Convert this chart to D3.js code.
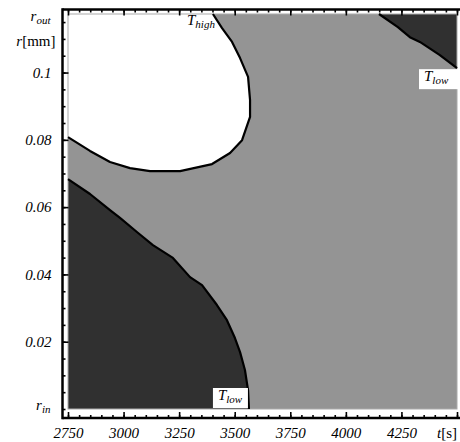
<!DOCTYPE html>
<html>
<head>
<meta charset="utf-8">
<script src="https://cdn.jsdelivr.net/npm/d3@7"></script>
<style>
  body { margin: 0; background: #fff; }
  svg { display: block; }
  svg text { font-family: "Liberation Serif", "Times New Roman", Times, "DejaVu Serif", serif; }
</style>
</head>
<body>
<svg id="chart"></svg>
<script>
// t in seconds, r in mm
const T_MIN = 2750;
const T_MAX = 4500;
const R_IN = 0;
const R_OUT = 0.1174;

// contour T = T_low, lower left corner  [t, r]
const lowLeft = [
    [2750, 0.0683], [2849, 0.0639], [2939, 0.0591], [2984, 0.0568],
    [3060, 0.0526], [3132, 0.0487], [3222, 0.0449], [3299, 0.0392],
    [3353, 0.0368], [3420, 0.0309], [3465, 0.0264], [3501, 0.0211],
    [3524, 0.0169], [3546, 0.0116], [3560, 0.0056], [3564, 0]
];
// contour T = T_high, upper left
const highTop = [
    [2750, 0.0808], [2849, 0.0767], [2939, 0.0734], [3029, 0.0716],
    [3119, 0.0707], [3254, 0.0707], [3398, 0.0728], [3479, 0.0761],
    [3533, 0.0799], [3569, 0.0868], [3569, 0.0918], [3560, 0.0987],
    [3524, 0.1043], [3488, 0.1091], [3443, 0.1132], [3402, 0.1174]
];
// contour T = T_low, upper right corner
const lowRight = [
    [4149, 0.1174], [4234, 0.1135], [4288, 0.1105], [4333, 0.1091],
    [4423, 0.1052], [4500, 0.1013]
];

const tTicks = [2750, 3000, 3250, 3500, 3750, 4000, 4250];
const tLabels = ["2750", "3000", "3250", "3500", "3750", "4000", "4250"];
const rTicks = [0.02, 0.04, 0.06, 0.08, 0.1];
const rLabels = ["0.02", "0.04", "0.06", "0.08", "0.1"];

const width = 460;
const height = 442;
const FONT = '"Liberation Serif", "Times New Roman", Times, "DejaVu Serif", serif';
const DARK = "#303030";
const MID = "#949494";
const AXIS_X = 62.5;
const AXIS_TOP = 9.5;
const AXIS_BOTTOM = 418;

const svg = d3.select("#chart").attr("width", width).attr("height", height)
    .attr("font-family", FONT);

const x = d3.scaleLinear().domain([T_MIN, T_MAX]).range([68, 457]);
const y = d3.scaleLinear().domain([R_IN, R_OUT]).range([409, 14]);

const line = d3.line().x(d => x(d[0])).y(d => y(d[1]));

// background: region between the two temperatures
svg.append("rect")
    .attr("x", x(T_MIN)).attr("y", y(R_OUT))
    .attr("width", x(T_MAX) - x(T_MIN))
    .attr("height", y(R_IN) - y(R_OUT))
    .attr("fill", MID);

svg.append("path")
    .attr("d", line(lowLeft.concat([[T_MIN, R_IN]])) + "Z")
    .attr("fill", DARK);
svg.append("path")
    .attr("d", line(highTop.concat([[T_MIN, R_OUT]])) + "Z")
    .attr("fill", "#fff");
svg.append("path")
    .attr("d", line(lowRight.concat([[T_MAX, R_OUT]])) + "Z")
    .attr("fill", DARK);

// thin frame of the plot region
svg.append("rect")
    .attr("x", x(T_MIN)).attr("y", y(R_OUT))
    .attr("width", x(T_MAX) - x(T_MIN))
    .attr("height", y(R_IN) - y(R_OUT))
    .attr("fill", "none")
    .attr("stroke", "#aaa")
    .attr("stroke-width", 1);

[lowLeft, highTop, lowRight].forEach(c => {
    svg.append("path")
        .attr("d", line(c))
        .attr("fill", "none")
        .attr("stroke", "#000")
        .attr("stroke-width", 2.2)
        .attr("stroke-linejoin", "round");
});

// axes
function styleAxis(g) {
    g.attr("font-family", FONT);
    g.select(".domain").remove();
    g.selectAll(".tick line").attr("stroke", "#000").attr("stroke-width", 1.6);
    g.selectAll(".tick text")
        .attr("font-family", FONT)
        .attr("font-style", "italic")
        .attr("font-size", 15)
        .attr("fill", "#000");
}

const rMinor = d3.range(0, R_OUT, 0.005);
const tMinor = d3.range(T_MIN, T_MAX + 1, 50);

svg.append("g").attr("transform", `translate(${AXIS_X},0)`)
    .call(d3.axisLeft(y).tickValues(rMinor).tickSize(-3).tickFormat(""))
    .call(styleAxis);
svg.append("g").attr("transform", `translate(${AXIS_X},0)`)
    .call(d3.axisLeft(y).tickValues(rTicks).tickSize(-6).tickPadding(11)
        .tickFormat((d, i) => rLabels[i]))
    .call(styleAxis);

svg.append("g").attr("transform", `translate(0,${AXIS_BOTTOM})`)
    .call(d3.axisBottom(x).tickValues(tMinor).tickSize(-3).tickFormat(""))
    .call(styleAxis);
svg.append("g").attr("transform", `translate(0,${AXIS_BOTTOM})`)
    .call(d3.axisBottom(x).tickValues(tTicks.concat([T_MAX])).tickSize(-6).tickPadding(9.5)
        .tickFormat((d, i) => tLabels[i] || ""))
    .call(styleAxis);

svg.append("g").attr("transform", `translate(0,${AXIS_TOP})`)
    .call(d3.axisTop(x).tickValues(tMinor).tickSize(-3).tickFormat(""))
    .call(styleAxis);
svg.append("g").attr("transform", `translate(0,${AXIS_TOP})`)
    .call(d3.axisTop(x).tickValues(tTicks.concat([T_MAX])).tickSize(-6).tickFormat(""))
    .call(styleAxis);

// thick frame lines (left, top, bottom)
svg.append("line")
    .attr("x1", AXIS_X).attr("x2", AXIS_X)
    .attr("y1", AXIS_TOP - 1.25).attr("y2", AXIS_BOTTOM + 1.25)
    .attr("stroke", "#000").attr("stroke-width", 2.5);
[AXIS_TOP, AXIS_BOTTOM].forEach(yy => {
    svg.append("line")
        .attr("x1", AXIS_X).attr("x2", width)
        .attr("y1", yy).attr("y2", yy)
        .attr("stroke", "#000").attr("stroke-width", 2.5);
});

// text with a subscript, e.g. r_out, T_low
function subText(px, py, main, sub, anchor, size) {
    const t = svg.append("text")
        .attr("x", px).attr("y", py)
        .attr("text-anchor", anchor || "start")
        .attr("font-family", FONT)
        .attr("font-style", "italic")
        .attr("font-size", size || 15);
    t.append("tspan").text(main);
    t.append("tspan").attr("font-size", 11).attr("dy", 3).text(sub);
    return t;
}

// special labels on the r axis
subText(AXIS_X - 12, 21, "r", "out", "end");
subText(AXIS_X - 12, 410, "r", "in", "end");
const rmm = svg.append("text")
    .attr("x", AXIS_X - 7).attr("y", y(0.11) + 7)
    .attr("text-anchor", "end").attr("font-size", 15).attr("font-family", FONT);
rmm.append("tspan").attr("font-style", "italic").text("r");
rmm.append("tspan").text("[mm]");

// t axis unit at the last tick
const ts = svg.append("text")
    .attr("x", x(T_MAX)).attr("y", 438)
    .attr("text-anchor", "end").attr("font-size", 15).attr("font-family", FONT);
ts.append("tspan").attr("font-style", "italic").text("t");
ts.append("tspan").text("[s]");

// contour labels
const hiEnd = highTop[highTop.length - 1];
subText(x(hiEnd[0]) + 2, y(R_OUT) + 11, "T", "high", "end");

function boxedLabel(right, top, w, h) {
    svg.append("rect")
        .attr("x", right - w).attr("y", top)
        .attr("width", w).attr("height", h)
        .attr("fill", "#fff");
    subText(right - w + 5, top + 12, "T", "low", "start");
}
const llEnd = lowLeft[lowLeft.length - 1];
boxedLabel(x(llEnd[0]) - 1, y(R_IN) - 21, 35, 20);
const lrEnd = lowRight[lowRight.length - 1];
boxedLabel(x(lrEnd[0]) + 1, y(lrEnd[1]) + 1, 39, 20);
</script>
</body>
</html>
